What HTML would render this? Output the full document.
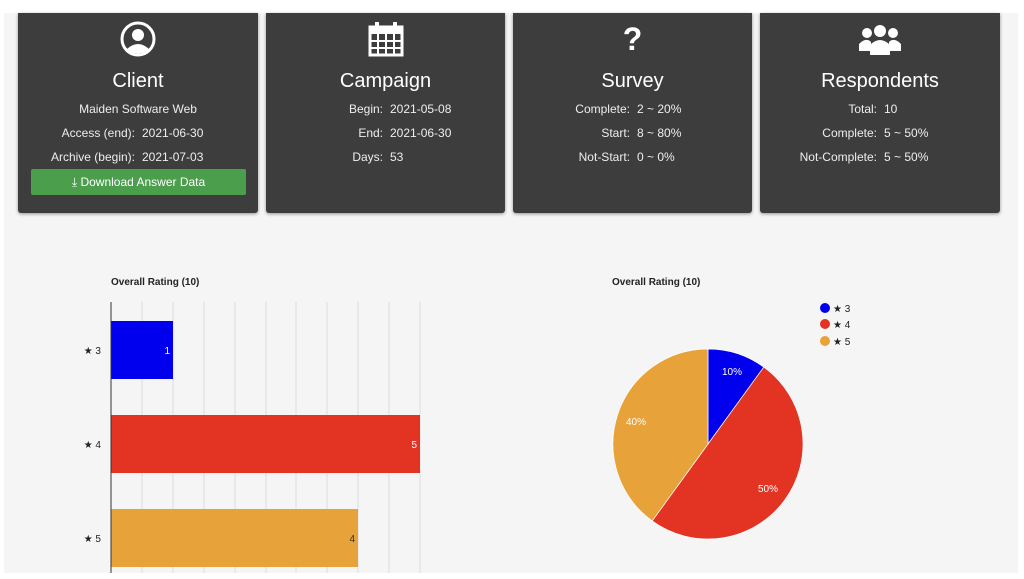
<!DOCTYPE html>
<html><head><meta charset="utf-8"><style>
body{margin:0;width:1024px;height:579px;background:#fff;position:relative;overflow:hidden;font-family:"Liberation Sans",sans-serif}
.bg{position:absolute;left:4px;top:13px;width:1014px;height:560px;background:#f4f5f4}
.card{position:absolute;top:13px;height:200px;background:#3d3d3d;color:#fff;text-align:center;border-radius:0 0 3px 3px;box-shadow:0 1px 3px rgba(0,0,0,.4)}
.card h2{margin:0;position:absolute;top:57px;width:100%;font-weight:normal;font-size:20px}
.row{position:absolute;width:100%;font-size:12px;color:#eee;height:14px}
.row .l{position:absolute;right:calc(100% - 117px);white-space:nowrap}
.row .v{position:absolute;left:124px;white-space:nowrap}
.ic{position:absolute;top:8px;left:0;width:100%}
.btn{position:absolute;left:13px;top:156px;width:215px;height:26px;background:#4a9e4c;border-radius:2px;font-size:12px;line-height:26px;color:#fff}
</style></head><body>
<div class="bg"></div>
<div class="card" style="left:18px;width:240px">
 <svg class="ic" height="36" viewBox="0 0 240 36"><circle cx="120" cy="18" r="16" fill="none" stroke="#fff" stroke-width="3"/><circle cx="120" cy="14" r="6" fill="#fff"/><path d="M108 29 Q120 17 132 29 Q120 36 108 29Z" fill="#fff"/></svg>
 <h2>Client</h2>
 <div class="row" style="top:89px">Maiden Software Web</div>
 <div class="row" style="top:113px"><span class="l">Access (end):</span><span class="v">2021-06-30</span></div>
 <div class="row" style="top:137px"><span class="l">Archive (begin):</span><span class="v">2021-07-03</span></div>
 <div class="btn">⤓ Download Answer Data</div>
</div>
<div class="card" style="left:266px;width:239px">
 <svg class="ic" height="36" viewBox="0 0 239 36"><rect x="104" y="6" width="32" height="28" fill="none" stroke="#fff" stroke-width="3"/><rect x="104" y="6" width="32" height="7" fill="#fff"/><path d="M104 20H136M104 27H136M112 13V34M120 13V34M128 13V34" stroke="#fff" stroke-width="2"/><rect x="109" y="1" width="4" height="8" fill="#fff"/><rect x="127" y="1" width="4" height="8" fill="#fff"/></svg>
 <h2>Campaign</h2>
 <div class="row" style="top:89px"><span class="l">Begin:</span><span class="v">2021-05-08</span></div>
 <div class="row" style="top:113px"><span class="l">End:</span><span class="v">2021-06-30</span></div>
 <div class="row" style="top:137px"><span class="l">Days:</span><span class="v">53</span></div>
</div>
<div class="card" style="left:513px;width:239px">
 <div class="ic" style="font-size:32px;font-weight:bold;top:8px">?</div>
 <h2>Survey</h2>
 <div class="row" style="top:89px"><span class="l">Complete:</span><span class="v">2 ~ 20%</span></div>
 <div class="row" style="top:113px"><span class="l">Start:</span><span class="v">8 ~ 80%</span></div>
 <div class="row" style="top:137px"><span class="l">Not-Start:</span><span class="v">0 ~ 0%</span></div>
</div>
<div class="card" style="left:760px;width:240px">
 <svg class="ic" height="36" viewBox="0 0 240 36"><circle cx="120" cy="10" r="6" fill="#fff"/><circle cx="107" cy="12" r="5" fill="#fff"/><circle cx="133" cy="12" r="5" fill="#fff"/><path d="M110 34V24Q120 14 130 24V34Z" fill="#fff"/><path d="M99 30V23Q106 16 111 21V30Z" fill="#fff"/><path d="M141 30V23Q134 16 129 21V30Z" fill="#fff"/></svg>
 <h2>Respondents</h2>
 <div class="row" style="top:89px"><span class="l">Total:</span><span class="v">10</span></div>
 <div class="row" style="top:113px"><span class="l">Complete:</span><span class="v">5 ~ 50%</span></div>
 <div class="row" style="top:137px"><span class="l">Not-Complete:</span><span class="v">5 ~ 50%</span></div>
</div>
<svg style="position:absolute;left:0;top:0" width="1024" height="579" font-family="Liberation Sans, sans-serif">
 <text x="111" y="285" font-size="10" font-weight="bold" fill="#222">Overall Rating (10)</text>
 <g stroke="#ddd" stroke-width="1">
  <line x1="142" y1="302" x2="142" y2="573"/><line x1="173" y1="302" x2="173" y2="573"/><line x1="204" y1="302" x2="204" y2="573"/><line x1="235" y1="302" x2="235" y2="573"/><line x1="266" y1="302" x2="266" y2="573"/><line x1="296" y1="302" x2="296" y2="573"/><line x1="327" y1="302" x2="327" y2="573"/><line x1="358" y1="302" x2="358" y2="573"/><line x1="389" y1="302" x2="389" y2="573"/><line x1="420" y1="302" x2="420" y2="573"/>
 </g>
 <rect x="111" y="321" width="62" height="58" fill="#0000ee"/>
 <rect x="111" y="415" width="309" height="58" fill="#e23323"/>
 <rect x="111" y="509" width="247" height="58" fill="#e8a23a"/>
 <line x1="111" y1="302" x2="111" y2="573" stroke="#333"/>
 <g font-size="10" text-anchor="end">
  <text x="170" y="354" fill="#fff">1</text><text x="417" y="448" fill="#fff">5</text><text x="355" y="542" fill="#333">4</text>
  <text x="101" y="354" fill="#222">★ 3</text><text x="101" y="448" fill="#222">★ 4</text><text x="101" y="542" fill="#222">★ 5</text>
 </g>
 <text x="612" y="285" font-size="10" font-weight="bold" fill="#222">Overall Rating (10)</text>
 <circle cx="825" cy="308" r="5" fill="#0000ee"/><circle cx="825" cy="324" r="5" fill="#e23323"/><circle cx="825" cy="341" r="5" fill="#e8a23a"/>
 <g font-size="10" fill="#222"><text x="833" y="312">★ 3</text><text x="833" y="328">★ 4</text><text x="833" y="345">★ 5</text></g>
 <path d="M708 444L708 349A95 95 0 0 1 763.8 367.1Z" fill="#0000ee" stroke="#fff" stroke-width="0.7"/>
 <path d="M708 444L763.8 367.1A95 95 0 0 1 652.2 520.9Z" fill="#e23323" stroke="#fff" stroke-width="0.7"/>
 <path d="M708 444L652.2 520.9A95 95 0 0 1 708 349Z" fill="#e8a23a" stroke="#fff" stroke-width="0.7"/>
 <g font-size="10" fill="#fff"><text x="722" y="375">10%</text><text x="758" y="492">50%</text><text x="626" y="425">40%</text></g>
</svg>
</body></html>
